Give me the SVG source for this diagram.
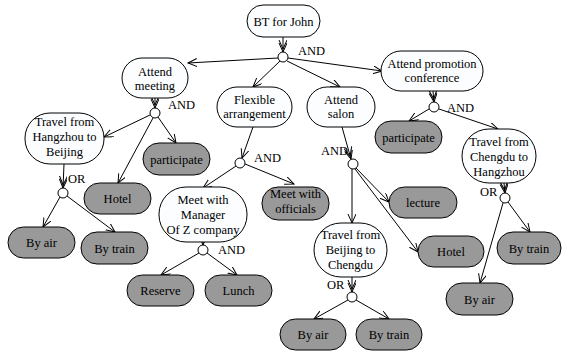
<svg xmlns="http://www.w3.org/2000/svg" width="562" height="352" viewBox="0 0 562 352">
<style>
.w{fill:#fbfdff;stroke:#000;stroke-width:1}
.g{fill:#999;stroke:#000;stroke-width:1}
.c{fill:#fff;stroke:#000;stroke-width:1}
.m{text-anchor:middle}
.e{fill:none;stroke:#000;stroke-width:1}
</style>
<defs>
<marker id="a" markerWidth="12" markerHeight="12" refX="9" refY="4" orient="auto" markerUnits="userSpaceOnUse"><path d="M0,0 L9,4 L0,8" fill="none" stroke="#000"/></marker>
<marker id="d" markerWidth="14" markerHeight="12" refX="12" refY="4" orient="auto" markerUnits="userSpaceOnUse"><path d="M0,0 L9,4 L0,8 M3,0 L12,4 L3,8" fill="none" stroke="#000"/></marker>
</defs>
<g id="connectors">
<path class="e" d="M283,37 L283,52" marker-end="url(#d)"/>
<path class="e" d="M278,58 L188,63" marker-end="url(#a)"/>
<path class="e" d="M280,61 L253,87" marker-end="url(#a)"/>
<path class="e" d="M287,61 L340,87" marker-end="url(#a)"/>
<path class="e" d="M288,58 L382,71" marker-end="url(#a)"/>
<path class="e" d="M155,98 L155,108" marker-end="url(#d)"/>
<path class="e" d="M150,115 L104,137" marker-end="url(#a)"/>
<path class="e" d="M153,118 L118,183" marker-end="url(#a)"/>
<path class="e" d="M158,117 L176,143" marker-end="url(#a)"/>
<path class="e" d="M64,164 L63,188" marker-end="url(#d)"/>
<path class="e" d="M60,197 L43,227" marker-end="url(#a)"/>
<path class="e" d="M67,196 L115,232" marker-end="url(#a)"/>
<path class="e" d="M253,127 L242,158" marker-end="url(#a)"/>
<path class="e" d="M236,166 L203,188" marker-end="url(#a)"/>
<path class="e" d="M245,164 L294,184" marker-end="url(#a)"/>
<path class="e" d="M203,234 L203,245" marker-end="url(#d)"/>
<path class="e" d="M199,253 L161,275" marker-end="url(#a)"/>
<path class="e" d="M207,253 L237,275" marker-end="url(#a)"/>
<path class="e" d="M342,127 L351,159" marker-end="url(#d)"/>
<path class="e" d="M352,169 L352,223" marker-end="url(#a)"/>
<path class="e" d="M356,168 L389,202" marker-end="url(#a)"/>
<path class="e" d="M355,169 L418,252" marker-end="url(#a)"/>
<path class="e" d="M352,277 L352,292" marker-end="url(#d)"/>
<path class="e" d="M348,300 L314,319" marker-end="url(#a)"/>
<path class="e" d="M356,300 L389,319" marker-end="url(#a)"/>
<path class="e" d="M433,91 L434,102" marker-end="url(#d)"/>
<path class="e" d="M429,109 L409,121" marker-end="url(#a)"/>
<path class="e" d="M439,109 L498,129" marker-end="url(#a)"/>
<path class="e" d="M504,183 L505,193" marker-end="url(#d)"/>
<path class="e" d="M508,202 L530,232" marker-end="url(#a)"/>
<path class="e" d="M503,203 L480,283" marker-end="url(#a)"/>
</g>
<g font-family="'Liberation Serif', 'DejaVu Serif', serif" font-size="12.5" fill="#000">
<g id="dec1"><circle class="c" cx="283" cy="57" r="5"/><text x="298" y="55">AND</text></g>
<g id="dec2"><circle class="c" cx="155" cy="113" r="5"/><text x="168" y="109">AND</text></g>
<g id="dec3"><circle class="c" cx="63" cy="193" r="5"/><text x="68" y="183">OR</text></g>
<g id="dec4"><circle class="c" cx="240" cy="163" r="5"/><text x="254" y="162">AND</text></g>
<g id="dec5"><circle class="c" cx="203" cy="250" r="5"/><text x="218" y="254">AND</text></g>
<g id="dec6"><circle class="c" cx="353" cy="164" r="5"/><text x="321" y="155">AND</text></g>
<g id="dec7"><circle class="c" cx="352" cy="297" r="5"/><text x="327" y="289">OR</text></g>
<g id="dec8"><circle class="c" cx="434" cy="107" r="5"/><text x="447" y="112">AND</text></g>
<g id="dec9"><circle class="c" cx="505" cy="198" r="5"/><text x="480" y="196">OR</text></g>
<g id="bt"><rect class="w" x="247" y="5" width="73" height="32" rx="16"/><text class="m" x="283.5" y="25.5">BT for John</text></g>
<g id="meeting"><rect class="w" x="122" y="58" width="66" height="40" rx="20"/><text class="m" x="155" y="75.5">Attend</text><text class="m" x="155" y="89.5">meeting</text></g>
<g id="flexible"><rect class="w" x="217" y="87" width="75" height="40" rx="20"/><text class="m" x="254.5" y="103.5">Flexible</text><text class="m" x="254.5" y="118">arrangement</text></g>
<g id="salon"><rect class="w" x="307" y="87" width="68" height="40" rx="20"/><text class="m" x="341" y="103.5">Attend</text><text class="m" x="341" y="118">salon</text></g>
<g id="promotion"><rect class="w" x="381" y="51" width="102" height="40" rx="20"/><text class="m" x="432" y="67.5">Attend promotion</text><text class="m" x="432" y="82">conference</text></g>
<g id="travelHB"><rect class="w" x="25" y="113" width="79" height="51" rx="25"/><text class="m" x="64.5" y="125.5">Travel from</text><text class="m" x="64.5" y="140.5">Hangzhou to</text><text class="m" x="64.5" y="155.5">Beijing</text></g>
<g id="partL"><rect class="g" x="143" y="143" width="67" height="32" rx="16"/><text class="m" x="176.5" y="163.5">participate</text></g>
<g id="hotelL"><rect class="g" x="84" y="183" width="67" height="31" rx="15.5"/><text class="m" x="117.5" y="202.5">Hotel</text></g>
<g id="airL"><rect class="g" x="8" y="227" width="67" height="31" rx="15.5"/><text class="m" x="41.5" y="247">By air</text></g>
<g id="trainL"><rect class="g" x="81" y="232" width="67" height="32" rx="16"/><text class="m" x="114.5" y="252.5">By train</text></g>
<g id="manager"><rect class="w" x="159" y="187" width="88" height="55" rx="27"/><text class="m" x="203" y="203.5">Meet with</text><text class="m" x="203" y="218.5">Manager</text><text class="m" x="203" y="233.5">Of Z company</text></g>
<g id="officials"><rect class="g" x="262" y="187" width="67" height="33" rx="16"/><text class="m" x="295.5" y="197.5">Meet with</text><text class="m" x="295.5" y="212.5">officials</text></g>
<g id="reserve"><rect class="g" x="127" y="275" width="67" height="31" rx="15.5"/><text class="m" x="160.5" y="295">Reserve</text></g>
<g id="lunch"><rect class="g" x="205" y="275" width="67" height="31" rx="15.5"/><text class="m" x="238.5" y="295">Lunch</text></g>
<g id="lecture"><rect class="g" x="389" y="187" width="68" height="31" rx="15.5"/><text class="m" x="423" y="206.5">lecture</text></g>
<g id="hotelR"><rect class="g" x="418" y="236" width="66" height="31" rx="15.5"/><text class="m" x="451" y="256">Hotel</text></g>
<g id="travelBC"><rect class="w" x="314" y="223" width="73" height="54" rx="27"/><text class="m" x="350.5" y="239">Travel from</text><text class="m" x="350.5" y="254">Beijing to</text><text class="m" x="350.5" y="269">Chengdu</text></g>
<g id="airB"><rect class="g" x="280" y="319" width="66" height="31" rx="15.5"/><text class="m" x="313" y="339">By air</text></g>
<g id="trainB"><rect class="g" x="356" y="319" width="66" height="31" rx="15.5"/><text class="m" x="389" y="339">By train</text></g>
<g id="partR"><rect class="g" x="375" y="121" width="67" height="32" rx="16"/><text class="m" x="408.5" y="141.5">participate</text></g>
<g id="travelCH"><rect class="w" x="462" y="129" width="74" height="54" rx="27"/><text class="m" x="499" y="146">Travel from</text><text class="m" x="499" y="161">Chengdu to</text><text class="m" x="499" y="176">Hangzhou</text></g>
<g id="trainR"><rect class="g" x="497" y="232" width="64" height="32" rx="16"/><text class="m" x="529" y="252.5">By train</text></g>
<g id="airR"><rect class="g" x="446" y="283" width="67" height="32" rx="16"/><text class="m" x="479.5" y="303.5">By air</text></g>
</g>
</svg>
